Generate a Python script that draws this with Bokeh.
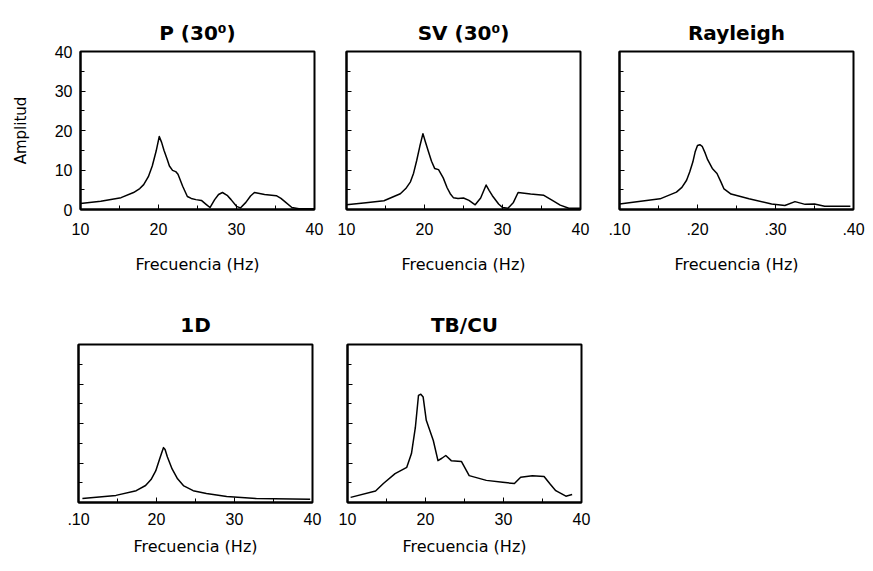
from bokeh.plotting import figure
from bokeh.layouts import column, row
from bokeh.models import FixedTicker, CustomJSTickFormatter, Range1d
from bokeh.embed import file_html
from bokeh.resources import INLINE

# ---------------- data ----------------
p_freq = [10, 12.6, 15.2, 16.8, 17.6, 18.1, 18.7, 19.2, 19.7, 20.1, 20.4, 20.7, 21.1, 21.4, 21.8,
          22.2, 22.5, 23.1, 23.7, 24.2, 24.8, 25.5, 26.1, 26.6, 27.2, 27.7, 28.2, 28.8, 29.3, 30.0,
          30.5, 31.2, 31.8, 32.3, 33.6, 35.1, 35.7, 36.2, 37.1, 38.0, 40]
p_amp = [1.5, 2.1, 3.0, 4.3, 5.3, 6.3, 8.3, 11.0, 14.8, 18.5, 17.0, 15.0, 12.8, 11.0, 9.9,
         9.6, 8.9, 5.9, 3.3, 2.8, 2.5, 2.3, 1.3, 0.5, 2.5, 3.8, 4.3, 3.6, 2.5, 0.8,
         0.4, 1.8, 3.4, 4.3, 3.8, 3.5, 2.8, 2.0, 0.5, 0.2, 0.2]

sv_freq = [10, 12.5, 14.8, 16.9, 17.6, 18.2, 18.6, 19.0, 19.4, 19.8, 20.1, 20.5, 20.9, 21.3, 21.8,
           22.4, 22.9, 23.3, 23.7, 24.3, 25.0, 25.7, 26.5, 27.2, 27.9, 28.3, 28.7, 29.5, 30.0, 30.7,
           31.4, 32.0, 33.6, 35.3, 36.5, 37.4, 38.5, 40]
sv_amp = [1.2, 1.7, 2.2, 4.0, 5.3, 7.0, 9.2, 12.4, 16.0, 19.2, 17.2, 14.7, 12.2, 10.4, 10.1,
          8.0, 5.5, 4.0, 3.0, 2.8, 2.9, 2.3, 1.2, 2.9, 6.2, 4.8, 3.5, 1.4, 0.5, 0.3,
          1.8, 4.3, 3.9, 3.6, 2.2, 1.1, 0.3, 0.3]

ray_freq = [0.100, 0.152, 0.173, 0.180, 0.186, 0.190, 0.194, 0.197, 0.200, 0.203, 0.206, 0.210,
            0.213, 0.219, 0.225, 0.230, 0.234, 0.243, 0.266, 0.295, 0.312, 0.325, 0.338, 0.350,
            0.363, 0.396]
ray_amp = [1.4, 2.7, 4.4, 5.6, 7.4, 9.5, 12.0, 14.6, 16.2, 16.4, 16.0, 14.2,
           12.6, 10.4, 9.1, 7.0, 5.2, 3.9, 2.7, 1.4, 1.0, 2.0, 1.3, 1.4,
           0.8, 0.8]

d1_freq = [10.5, 14.8, 17.4, 18.6, 19.3, 19.9, 20.4, 20.7, 20.9, 21.1, 21.4, 22.0, 22.7, 23.5,
           24.7, 26.4, 29.0, 32.8, 39.7]
d1_amp = [1.0, 1.8, 3.0, 4.3, 5.8, 8.0, 11.0, 12.8, 13.9, 13.4, 11.5, 8.5, 6.0, 4.2,
          3.0, 2.3, 1.5, 1.0, 0.8]

tb_freq = [10.4, 13.6, 14.6, 16.1, 17.6, 18.2, 18.7, 19.1, 19.4, 19.7, 20.1, 21.0, 21.6, 22.1,
           22.6, 23.3, 24.6, 25.6, 27.8, 29.9, 31.4, 32.2, 33.7, 35.2, 36.0, 36.7, 38.0, 38.8]
tb_amp = [1.3, 2.9, 4.8, 7.3, 8.9, 12.4, 19.0, 27.1, 27.4, 26.7, 20.8, 15.7, 10.6, 11.2,
          11.9, 10.6, 10.4, 6.8, 5.6, 5.1, 4.8, 6.4, 6.8, 6.6, 4.6, 3.0, 1.6, 2.0]

titles = ["P (30\u2070)", "SV (30\u2070)", "Rayleigh", "1D", "TB/CU"]
x_label = "Frecuencia (Hz)"
y_label = "Amplitud"
hz_ticks = [10, 20, 30, 40]
hz_minor = [15, 25, 35]
ray_ticks = [0.10, 0.20, 0.30, 0.40]
ray_minor = [0.15, 0.25, 0.35]
amp_ticks = [0, 10, 20, 30, 40]
amp_minor = [5, 15, 25, 35]

FW, FH = 234, 158
LABEL_FONT = "DejaVu Sans"
TICK_FONT = "Liberation Sans"


def panel(title, xs, ys, xr, xticks, xminor, bl, br, bt, bb, tick_sd, lab_sd, title_sd,
          xfmt=None, show_yticks=False, ylab=None):
    p = figure(width=bl + FW + br, height=bt + FH + bb,
               x_range=Range1d(*xr), y_range=Range1d(0, 40),
               output_backend="svg", toolbar_location=None,
               min_border_left=bl, min_border_right=br,
               min_border_top=bt, min_border_bottom=bb,
               title=title)
    p.grid.visible = False
    p.outline_line_color = "black"
    p.outline_line_width = 2
    p.background_fill_color = "white"
    p.border_fill_color = "white"

    p.title.text_font = LABEL_FONT
    p.title.text_font_size = "20px"
    p.title.text_font_style = "bold"
    p.title.align = "center"
    p.title.standoff = title_sd
    p.title.text_color = "black"

    p.line(xs, ys, line_color="black", line_width=1.5, line_join="round")

    for ax in (p.xaxis[0], p.yaxis[0]):
        ax.axis_line_color = "black"
        ax.axis_line_width = 2
        ax.major_tick_in = 5
        ax.major_tick_out = 0
        ax.minor_tick_in = 4
        ax.minor_tick_out = 0
        ax.major_tick_line_color = "black"
        ax.minor_tick_line_color = "black"
        ax.major_label_text_font = TICK_FONT
        ax.major_label_text_font_size = "16px"
        ax.major_label_text_color = "black"
        ax.axis_label_text_font = LABEL_FONT
        ax.axis_label_text_font_style = "normal"
        ax.axis_label_text_color = "black"

    xa = p.xaxis[0]
    xa.ticker = FixedTicker(ticks=xticks, minor_ticks=xminor)
    if xfmt is not None:
        xa.formatter = xfmt
    xa.axis_label = x_label
    xa.axis_label_text_font_size = "16px"
    xa.major_label_standoff = tick_sd
    xa.axis_label_standoff = lab_sd

    ya = p.yaxis[0]
    ya.ticker = FixedTicker(ticks=amp_ticks, minor_ticks=amp_minor)
    ya.major_label_standoff = 8
    if not show_yticks:
        ya.formatter = CustomJSTickFormatter(code="return '';")
    if ylab:
        ya.axis_label = ylab
        ya.axis_label_text_font_size = "15px"
        ya.axis_label_standoff = 22
    return p


ray_fmt = CustomJSTickFormatter(code="var t = Math.round(tick*100); return '.' + t;")
d1_fmt = CustomJSTickFormatter(code="return tick == 10 ? '.10' : String(tick);")

p1 = panel(titles[0], p_freq, p_amp, (10, 40), hz_ticks, hz_minor, 80, 16, 51, 80, 13, 17, 13,
           show_yticks=True, ylab=y_label)
p2 = panel(titles[1], sv_freq, sv_amp, (10, 40), hz_ticks, hz_minor, 16, 19, 51, 80, 13, 17, 13)
p3 = panel(titles[2], ray_freq, ray_amp, (0.10, 0.40), ray_ticks, ray_minor, 20, 12, 51, 80,
           13, 17, 13, xfmt=ray_fmt)
p4 = panel(titles[3], d1_freq, d1_amp, (10, 40), hz_ticks, hz_minor, 78, 17, 55, 62, 10, 9, 15,
           xfmt=d1_fmt)
p5 = panel(titles[4], tb_freq, tb_amp, (10, 40), hz_ticks, hz_minor, 18, 12, 55, 62, 10, 9, 15)

layout = column(row(p1, p2, p3), row(p4, p5))

open("out.html", "w").write(file_html(layout, INLINE))
